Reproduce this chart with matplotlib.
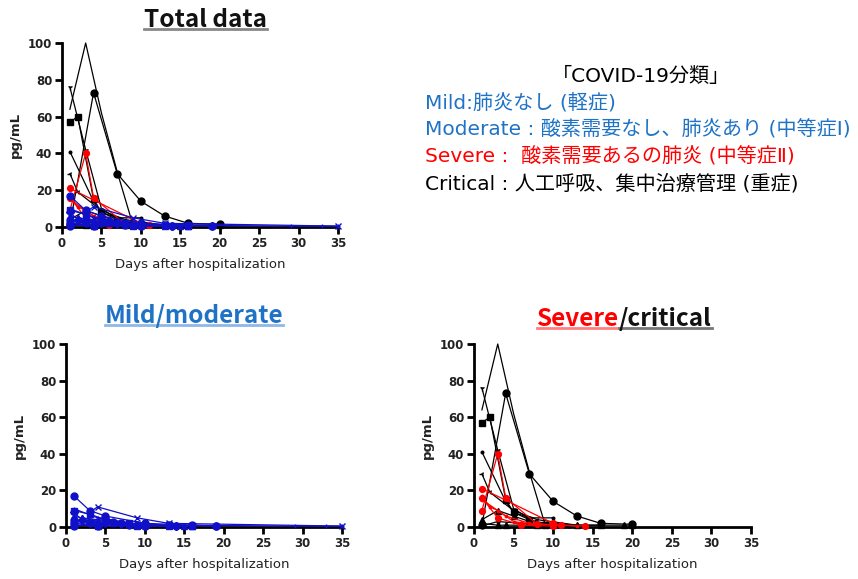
import matplotlib
matplotlib.use("Agg")
import matplotlib.pyplot as plt
from matplotlib.lines import Line2D

plt.rcParams['font.family'] = ['DejaVu Sans', 'Noto Sans CJK JP']

# ---------------- data ----------------
# Severe / critical (black = critical)
crit_series = [
    dict(x=[1, 3, 5, 7, 9], y=[64, 100, 62, 30, 1], m='None'),
    dict(x=[1, 4, 7, 10, 13, 16, 20], y=[1, 73, 29, 14, 6, 2, 1.5], m='o'),
    dict(x=[1, 2, 4, 5, 7, 9], y=[57, 60, 15, 8, 4, 1], m='s'),
    dict(x=[1, 3, 5, 8], y=[76, 42, 10, 2], m='1'),
    dict(x=[1, 4, 5, 7, 10], y=[41, 14, 8, 5, 5], m='.'),
    dict(x=[1, 2, 5, 8, 13], y=[29, 19, 9, 4, 1], m='3'),
    dict(x=[1, 3, 5, 7, 10, 13, 16], y=[4, 9, 6, 3, 2, 1, 1], m='^'),
    dict(x=[1, 3, 4, 8, 19, 20], y=[2, 1, 1, 1, 1, 1], m='^'),
    dict(x=[1, 3, 6, 9, 12], y=[0.5, 3, 2, 1, 0.5], m='.'),
]
# Severe (red)
sev_series = [
    dict(x=[1, 3, 4, 8, 14], y=[9, 40, 16, 1.5, 0.5], m='o'),
    dict(x=[1, 10, 11], y=[21, 2, 1], m='o'),
    dict(x=[1, 3, 6, 10], y=[16, 5, 1, 0.5], m='o'),
    dict(x=[1, 2, 3, 5, 8], y=[17, 11, 9, 3, 1], m='.'),
    dict(x=[1, 4, 7, 13], y=[15, 6, 2, 0.5], m='.'),
]
# Mild / moderate (blue)
mild_series = [
    dict(x=[1, 3, 5, 10, 16, 19], y=[17, 9, 6, 2, 1, 0.5], m='o'),
    dict(x=[3, 4, 9, 13, 35], y=[8, 11, 5, 2, 0.5], m='x'),
    dict(x=[1, 4, 7, 10, 14, 29, 33, 35], y=[10, 5, 3, 1, 1, 0.5, 0.5, 0.5], m='+'),
    dict(x=[1, 3, 5, 8, 13, 16], y=[9, 7, 4, 2, 1, 0.5], m='s'),
    dict(x=[1, 2, 4, 6, 10, 15], y=[6, 5, 3, 2, 1, 0.5], m='^'),
    dict(x=[1, 3, 5, 7, 9, 14], y=[4, 3, 5, 2, 1, 0.5], m='o'),
    dict(x=[1, 4, 6, 10, 13, 19], y=[2, 1, 3, 0.5, 1, 0.5], m='o'),
    dict(x=[1, 3, 4, 8, 10], y=[0.5, 2, 0.5, 1, 0.5], m='o'),
    dict(x=[1, 5, 7, 10, 16], y=[3, 2, 1, 0.5, 0.5], m='v'),
    dict(x=[1, 2, 5, 9, 14], y=[8, 4, 2, 1, 0.5], m='D'),
    dict(x=[1, 4, 6, 9, 16], y=[1, 0.5, 2, 0.5, 0.5], m='s'),
    dict(x=[2, 4, 7, 10, 13], y=[5, 4, 2, 1, 0.5], m='^'),
]

x_ticks = [0, 5, 10, 15, 20, 25, 30, 35]
y_ticks = [0, 20, 40, 60, 80, 100]

BLUE_TXT = '#1F73C6'
RED = '#FF0000'
LINE_BLUE = '#1010C8'
CJK = ['Noto Sans CJK JP', 'DejaVu Sans']

fig = plt.figure(figsize=(8.58, 5.79), dpi=100)


def style_axes(ax):
    ax.set_xlim(0, 35)
    ax.set_ylim(0, 100)
    ax.set_xticks(x_ticks)
    ax.set_yticks(y_ticks)
    for s in ['top', 'right']:
        ax.spines[s].set_visible(False)
    for s in ['left', 'bottom']:
        ax.spines[s].set_linewidth(2.0)
    ax.tick_params(direction='out', width=2.0, length=5, labelsize=8.5, pad=2)
    for lab in ax.get_xticklabels() + ax.get_yticklabels():
        lab.set_fontweight('bold')
        lab.set_color('#222222')
    ax.set_xlabel('Days after hospitalization', fontsize=9.5, labelpad=6,
                  color='#222222')
    ax.set_ylabel('pg/mL', fontsize=9.5, fontweight='bold', labelpad=4,
                  color='#222222')


def draw(ax, series, color, big=5.0, small=3.8):
    for s in series:
        if s['m'] in ('o', 's'):
            size = big
        elif s['m'] == '+':
            size = 3.5
        else:
            size = small
        ax.plot(s['x'], s['y'], color=color, lw=0.9, marker=s['m'],
                markersize=size, markerfacecolor=color, markeredgecolor=color,
                clip_on=False, zorder=3)


ax1 = fig.add_axes([62/858, (579-227)/579, 276/858, 184/579])
draw(ax1, crit_series, 'black')
draw(ax1, sev_series, RED, big=4.2, small=3.5)
draw(ax1, mild_series, LINE_BLUE)
style_axes(ax1)

ax2 = fig.add_axes([66/858, (579-527)/579, 276/858, 183/579])
draw(ax2, mild_series, LINE_BLUE)
style_axes(ax2)

ax3 = fig.add_axes([474/858, (579-527)/579, 277/858, 183/579])
draw(ax3, crit_series, 'black')
draw(ax3, sev_series, RED, big=4.2, small=3.5)
style_axes(ax3)

# ---------------- titles with underline ----------------
fig.canvas.draw()
renderer = fig.canvas.get_renderer()
inv = fig.transFigure.inverted()


def underline(t, color):
    bb = t.get_window_extent(renderer)
    (x0, y0), (x1, y1) = inv.transform([(bb.x0, bb.y0), (bb.x1, bb.y1)])
    yline = y0 + 0.006
    fig.add_artist(Line2D([x0, x1], [yline, yline], color=color, lw=2.0,
                          transform=fig.transFigure))


TFS = 17.5
t1 = fig.text(205/858, 1 - 20/579, 'Total data', ha='center', va='center',
              fontsize=TFS, fontweight='bold', color='#111111', family=CJK)
t2 = fig.text(194/858, 1 - 316/579, 'Mild/moderate', ha='center', va='center',
              fontsize=TFS, fontweight='bold', color=BLUE_TXT, family=CJK)
t3a = fig.text(537/858, 1 - 319/579, 'Severe', ha='left', va='center',
               fontsize=TFS, fontweight='bold', color=RED, family=CJK)
fig.canvas.draw()
bb = t3a.get_window_extent(renderer)
xr = inv.transform((bb.x1, bb.y0))[0]
t3b = fig.text(xr, 1 - 319/579, '/critical', ha='left', va='center',
               fontsize=TFS, fontweight='bold', color='#111111', family=CJK)
fig.canvas.draw()
underline(t1, '#888888')
underline(t2, '#8FB8E6')
underline(t3a, '#FF8080')
underline(t3b, '#777777')

# ---------------- classification text ----------------
LFS = 14.5
fig.text(641/858, 1 - 76/579, '「COVID-19分類」', ha='center', va='center',
         fontsize=LFS, color='black')
lx = 425/858
fig.text(lx, 1 - 103/579, 'Mild:肺炎なし (軽症)', ha='left', va='center',
         fontsize=LFS, color=BLUE_TXT)
fig.text(lx, 1 - 130/579, 'Moderate : 酸素需要なし、肺炎あり (中等症Ⅰ)', ha='left',
         va='center', fontsize=LFS, color=BLUE_TXT)
fig.text(lx, 1 - 157/579, 'Severe :  酸素需要あるの肺炎 (中等症Ⅱ)', ha='left',
         va='center', fontsize=LFS, color=RED)
fig.text(lx, 1 - 184/579, 'Critical : 人工呼吸、集中治療管理 (重症)', ha='left',
         va='center', fontsize=LFS, color='black')

fig.savefig('out.png', dpi=100)
